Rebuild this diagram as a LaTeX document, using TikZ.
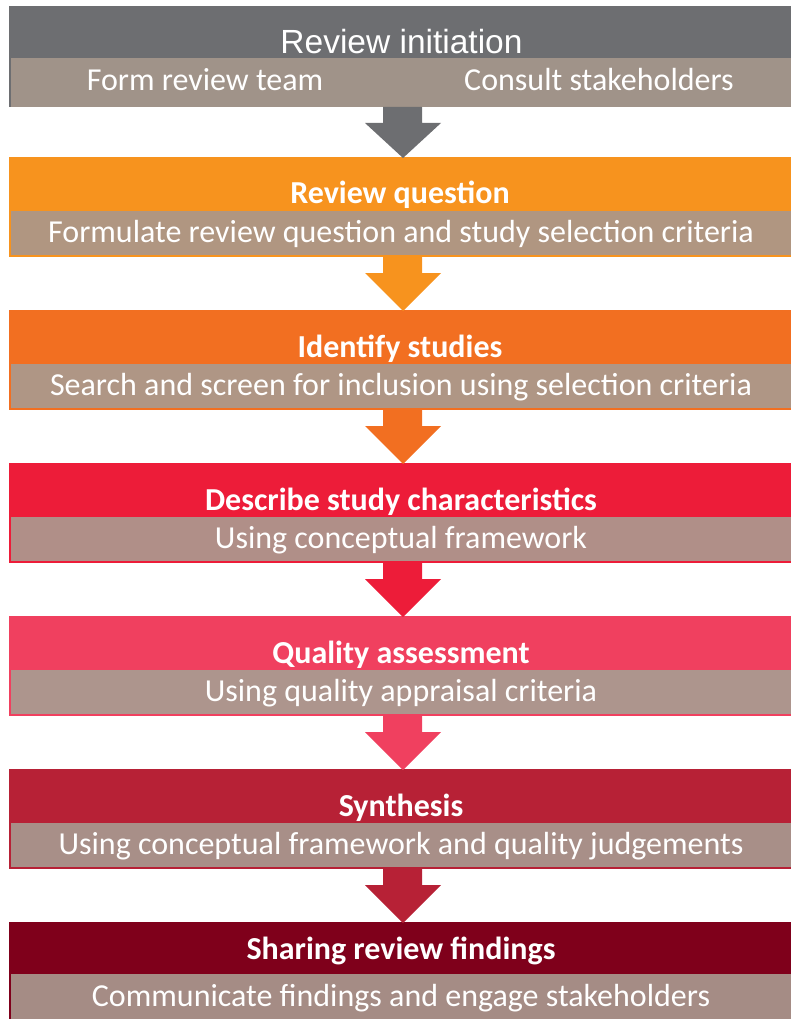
\documentclass[tikz,border=0pt]{standalone}
\usepackage{fontspec}
\setmainfont{Carlito}
\newfontfamily\arialf{Liberation Sans}
\usetikzlibrary{calc}
\definecolor{cA}{HTML}{6D6E71}
\definecolor{sA}{HTML}{A09389}
\definecolor{cB}{HTML}{F7931E}
\definecolor{sB}{HTML}{B09681}
\definecolor{cC}{HTML}{F26F21}
\definecolor{sC}{HTML}{AF9685}
\definecolor{cD}{HTML}{ED1C39}
\definecolor{sD}{HTML}{B08F88}
\definecolor{cE}{HTML}{F0405F}
\definecolor{sE}{HTML}{AD958D}
\definecolor{cF}{HTML}{B72136}
\definecolor{sF}{HTML}{A88F88}
\definecolor{cG}{HTML}{7F001B}
\definecolor{sG}{HTML}{A58C85}
\tikzset{
  block/.style={rectangle, draw=none, inner sep=0pt, outer sep=0pt, anchor=north west, minimum width=782pt},
  band/.style={rectangle, draw=none, inner sep=0pt, outer sep=0pt, anchor=north west, minimum width=780pt, minimum height=44pt},
  ttl/.style={anchor=base, inner sep=0pt, text=white, font=\fontsize{32}{36}\selectfont\bfseries},
  subtxt/.style={anchor=base, inner sep=0pt, text=white, font=\fontsize{32}{36}\selectfont},
}
\newcommand{\flowarr}[3]{%
  \fill[#3] ($(#1.south -| axis)+(-20,0)$) -- ($(#1.south -| axis)+(19,0)$)
    -- ($(#1.south -| axis)+(19,16)$) -- ($(#1.south -| axis)+(38,16)$)
    -- ($(#2.north -| axis)+(0,1)$)
    -- ($(#1.south -| axis)+(-38,16)$) -- ($(#1.south -| axis)+(-20,16)$) -- cycle;}
\begin{document}
\begin{tikzpicture}[x=1pt,y=-1pt]
\useasboundingbox (0,0) rectangle (791,1019);
\coordinate (axis) at (403,0);
% block 1
\node[block, fill=cA, minimum height=101pt] (b1) at (9,6) {};
\node[band, fill=sA, minimum height=49pt] (s1) at (11,58) {};
\node[anchor=base, inner sep=0pt, text=white, font=\arialf\fontsize{33.5}{38}\selectfont] (t1) at (401.5,54) {Review initiation};
\node[subtxt] (u1a) at (205,90.5) {Form review team};
\node[subtxt] (u1b) at (599,90.5) {Consult stakeholders};
% blocks 2-6
\node[block, fill=cB, minimum height=100pt] (b2) at (9,157) {};
\node[band, fill=sB] (s2) at (11,211) {};
\node[ttl] (t2) at (400,204) {Review question};
\node[subtxt] (u2) at (401,242.5) {Formulate review question and study selection criteria};
\node[block, fill=cC, minimum height=100pt] (b3) at (9,310) {};
\node[band, fill=sC] (s3) at (11,364) {};
\node[ttl] (t3) at (400,357) {Identify studies};
\node[subtxt] (u3) at (401,395.5) {Search and screen for inclusion using selection criteria};
\node[block, fill=cD, minimum height=100pt] (b4) at (9,463) {};
\node[band, fill=sD] (s4) at (11,517) {};
\node[ttl] (t4) at (401,510) {Describe study characteristics};
\node[subtxt] (u4) at (401,548.5) {Using conceptual framework};
\node[block, fill=cE, minimum height=100pt] (b5) at (9,616) {};
\node[band, fill=sE] (s5) at (11,670) {};
\node[ttl] (t5) at (401,663) {Quality assessment};
\node[subtxt] (u5) at (401,701.5) {Using quality appraisal criteria};
\node[block, fill=cF, minimum height=100pt] (b6) at (9,769) {};
\node[band, fill=sF] (s6) at (11,823) {};
\node[ttl] (t6) at (401,816) {Synthesis};
\node[subtxt] (u6) at (401,854.5) {Using conceptual framework and quality judgements};
\node[block, fill=cG, minimum height=97pt] (b7) at (9,922) {};
\node[band, fill=sG, minimum height=45pt] (s7) at (11,974) {};
\node[ttl] (t7) at (401,959) {Sharing review findings};
\node[subtxt] (u7) at (401,1006) {Communicate findings and engage stakeholders};
% arrows
\flowarr{b1}{b2}{cA}
\flowarr{b2}{b3}{cB}
\flowarr{b3}{b4}{cC}
\flowarr{b4}{b5}{cD}
\flowarr{b5}{b6}{cE}
\flowarr{b6}{b7}{cF}
\end{tikzpicture}
\end{document}
